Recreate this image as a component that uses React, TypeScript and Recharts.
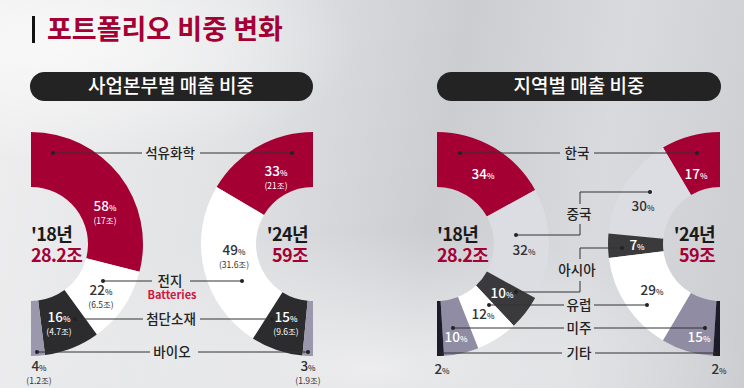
import React from "react";
import { PieChart, Pie, Cell } from "recharts";

// 사업본부별
const bizNames = ["석유화학", "전지", "첨단소재", "바이오"];
const biz2018 = [58, 22, 16, 4];
const biz2024 = [33, 49, 15, 3];
const biz2018Won = ["17조", "6.5조", "4.7조", "1.2조"];
const biz2024Won = ["21조", "31.6조", "9.6조", "1.9조"];

// 지역별
const regionNames = ["한국", "중국", "아시아", "유럽", "미주", "기타"];
const region2018 = [34, 32, 10, 12, 10, 2];
const region2024 = [17, 30, 7, 29, 15, 2];

const years = ["'18년", "'24년"];
const totals = ["28.2조", "59조"];

const RED = "#a50034";
const bizColors = [RED, "#ffffff", "#2c2c2e", "#9b98ad"];
const regionColors = [RED, "#dcdde2", "#3a3a3c", "#ffffff", "#8f8ca3", "#1c1b2a"];
const FONT = "'Noto Sans CJK KR', 'Noto Sans', sans-serif";

const toRows = (names: string[], vals: number[]) => names.map((name, i) => ({ name, value: vals[i] }));

// half donut geometry
const IR = 57;
const OR = 112;
const CY = 244;

function Pct({ x, y, v, won, dark }: { x: number; y: number; v: number; won?: string; dark?: boolean }) {
  const fill = dark ? "#333" : "#fff";
  return (
    <g fontFamily={FONT}>
      <text x={x} y={y + 4} textAnchor="middle" fill={fill} fontSize={13.5} fontWeight={500}>
        {v}
        <tspan fontSize={8}>%</tspan>
      </text>
      {won && (
        <text x={x} y={y + 17} textAnchor="middle" fill={fill} fontSize={8.5}>
          ({won})
        </text>
      )}
    </g>
  );
}

function Callout({ text, x, y, l, r }: { text: string; x: number; y: number; l: [number, number]; r: [number, number] }) {
  return (
    <g>
      <line x1={l[0]} x2={l[1]} y1={y} y2={y} stroke="#333" strokeWidth={1} />
      <line x1={r[0]} x2={r[1]} y1={y} y2={y} stroke="#333" strokeWidth={1} />
      <circle cx={l[0]} cy={y} r={2} fill="#222" />
      <circle cx={r[1]} cy={y} r={2} fill="#222" />
      <text x={x} y={y + 5} textAnchor="middle" fontFamily={FONT} fontSize={13.5} fontWeight={500} fill="#222">
        {text}
      </text>
    </g>
  );
}

function YearLabel({ x, y, anchor, i }: { x: number; y: number; anchor: "start" | "end"; i: number }) {
  return (
    <g fontFamily={FONT} fontWeight={700} letterSpacing={-0.6}>
      <text x={x} y={y} textAnchor={anchor} fontSize={18} fill="#1a1a1a">
        {years[i]}
      </text>
      <text x={x} y={y + 21} textAnchor={anchor} fontSize={18} fill={RED}>
        {totals[i]}
      </text>
    </g>
  );
}

export default function App() {
  return (
    <div
      style={{
        position: "relative",
        width: 744,
        height: 388,
        overflow: "hidden",
        background:
          "radial-gradient(ellipse 40% 30% at 8% 12%, rgba(250,250,250,0.9), rgba(250,250,250,0)), radial-gradient(ellipse 50% 35% at 50% 95%, rgba(240,240,241,0.9), rgba(240,240,241,0)), linear-gradient(100deg, #eeeeef 0%, #e2e3e5 30%, #cbcdd1 58%, #d8dadd 78%, #cbcdd0 100%)",
      }}
    >
      <style>{"body{margin:0}"}</style>
      <PieChart width={744} height={388} margin={{ top: 0, right: 0, bottom: 0, left: 0 }} style={{ position: "absolute", left: 0, top: 0 }}>
        <Pie data={toRows(bizNames, biz2018)} dataKey="value" cx={31} cy={CY} innerRadius={IR} outerRadius={OR} startAngle={90} endAngle={-90} stroke="none" isAnimationActive={false}>
          {bizColors.map((c, i) => <Cell key={i} fill={c} />)}
        </Pie>
        <Pie data={toRows(bizNames, biz2024)} dataKey="value" cx={313} cy={CY} innerRadius={IR} outerRadius={OR} startAngle={90} endAngle={270} stroke="none" isAnimationActive={false}>
          {bizColors.map((c, i) => <Cell key={i} fill={c} />)}
        </Pie>
        <Pie data={toRows(regionNames, region2018)} dataKey="value" cx={437} cy={CY} innerRadius={IR} outerRadius={OR} startAngle={90} endAngle={-90} stroke="none" isAnimationActive={false}>
          {regionColors.map((c, i) => <Cell key={i} fill={c} />)}
        </Pie>
        <Pie data={toRows(regionNames, region2024)} dataKey="value" cx={720} cy={CY} innerRadius={IR} outerRadius={OR} startAngle={90} endAngle={270} stroke="none" isAnimationActive={false}>
          {regionColors.map((c, i) => <Cell key={i} fill={c} />)}
        </Pie>
      </PieChart>

      <svg width={744} height={388} style={{ position: "absolute", left: 0, top: 0, pointerEvents: "none" }}>
        {/* title */}
        <rect x={32} y={16} width={3} height={27} fill="#111" />
        <text x={47} y={39} fontFamily={FONT} fontSize={27} fontWeight={700} fill={RED}>
          포트폴리오 비중 변화
        </text>

        {/* pills */}
        <rect x={30} y={72} width={283} height={29} rx={14.5} fill="#232323" />
        <text x={171} y={93} textAnchor="middle" fontFamily={FONT} fontSize={19} fontWeight={500} fill="#fff">
          사업본부별 매출 비중
        </text>
        <rect x={437} y={72} width={284} height={29} rx={14.5} fill="#232323" />
        <text x={579} y={93} textAnchor="middle" fontFamily={FONT} fontSize={19} fontWeight={500} fill="#fff">
          지역별 매출 비중
        </text>

        {/* 사업본부별 */}
        <YearLabel x={31} y={241} anchor="start" i={0} />
        <YearLabel x={308} y={241} anchor="end" i={1} />

        <Callout text={bizNames[0]} x={170} y={153} l={[53, 142]} r={[200, 292]} />
        <Callout text={bizNames[1]} x={170} y={281} l={[103, 152]} r={[190, 242]} />
        <text x={172} y={299} textAnchor="middle" fontFamily={FONT} fontSize={11} fontWeight={700} fill="#d1163f">
          Batteries
        </text>
        <Callout text={bizNames[2]} x={171} y={319} l={[75, 143]} r={[200, 272]} />
        <Callout text={bizNames[3]} x={172} y={352} l={[37, 150]} r={[198, 308]} />

        <Pct x={105} y={207} v={biz2018[0]} won={biz2018Won[0]} />
        <Pct x={101} y={291} v={biz2018[1]} won={biz2018Won[1]} dark />
        <Pct x={59} y={318} v={biz2018[2]} won={biz2018Won[2]} />
        <Pct x={39} y={367} v={biz2018[3]} won={biz2018Won[3]} dark />

        <Pct x={276} y={172} v={biz2024[0]} won={biz2024Won[0]} />
        <Pct x={234} y={251} v={biz2024[1]} won={biz2024Won[1]} dark />
        <Pct x={286} y={318} v={biz2024[2]} won={biz2024Won[2]} />
        <Pct x={308} y={367} v={biz2024[3]} won={biz2024Won[3]} dark />

        {/* 지역별 */}
        <YearLabel x={437} y={241} anchor="start" i={0} />
        <YearLabel x={715} y={241} anchor="end" i={1} />

        <Callout text={regionNames[0]} x={577} y={153} l={[460, 560]} r={[594, 697]} />

        {/* 중국 elbow */}
        <polyline points="650,192 580,192 580,204" fill="none" stroke="#333" />
        <polyline points="580,224 580,235 516,235" fill="none" stroke="#333" />
        <circle cx={650} cy={192} r={2} fill="#222" />
        <circle cx={516} cy={235} r={2} fill="#222" />
        <text x={579} y={219} textAnchor="middle" fontFamily={FONT} fontSize={13.5} fontWeight={500} fill="#222">
          {regionNames[1]}
        </text>

        {/* 아시아 elbow */}
        <polyline points="622,248 580,248 580,259" fill="none" stroke="#333" />
        <polyline points="580,281 580,292 516,292" fill="none" stroke="#333" />
        <circle cx={622} cy={248} r={2} fill="#222" />
        <circle cx={516} cy={292} r={2} fill="#222" />
        <text x={577} y={275} textAnchor="middle" fontFamily={FONT} fontSize={13.5} fontWeight={500} fill="#222">
          {regionNames[2]}
        </text>

        <Callout text={regionNames[3]} x={579} y={305} l={[489, 564]} r={[594, 647]} />
        <Callout text={regionNames[4]} x={579} y={328} l={[453, 564]} r={[594, 705]} />
        <Callout text={regionNames[5]} x={579} y={353} l={[440, 562]} r={[595, 717]} />

        <Pct x={483} y={175} v={region2018[0]} />
        <Pct x={524} y={251} v={region2018[1]} dark />
        <Pct x={502} y={294} v={region2018[2]} />
        <Pct x={483} y={315} v={region2018[3]} dark />
        <Pct x={456} y={338} v={region2018[4]} />
        <Pct x={442} y={370} v={region2018[5]} dark />

        <Pct x={696} y={175} v={region2024[0]} />
        <Pct x={643} y={207} v={region2024[1]} dark />
        <Pct x={637} y={246} v={region2024[2]} />
        <Pct x={652} y={291} v={region2024[3]} dark />
        <Pct x={699} y={338} v={region2024[4]} />
        <Pct x={719} y={370} v={region2024[5]} dark />
      </svg>
    </div>
  );
}
